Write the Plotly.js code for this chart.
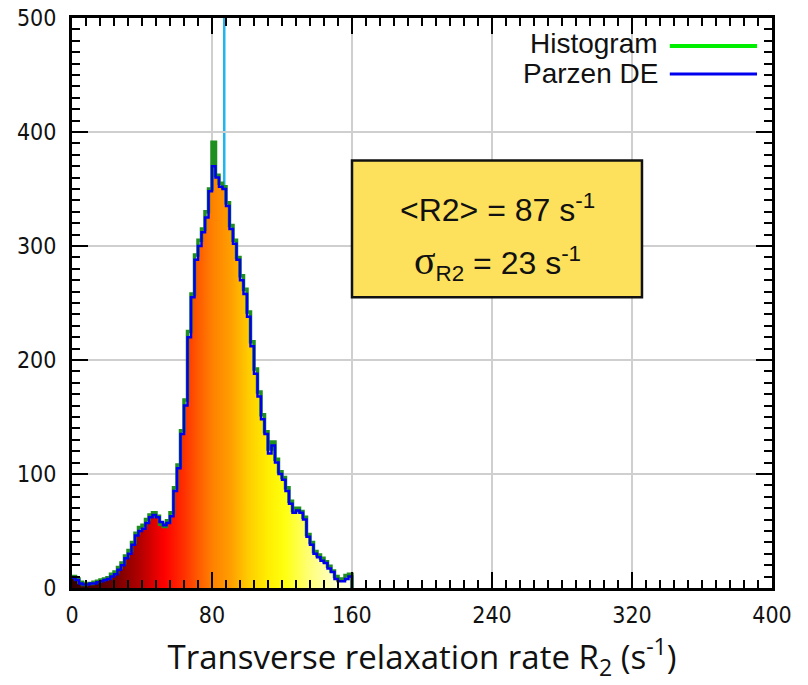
<!DOCTYPE html>
<html><head><meta charset="utf-8">
<script src="https://cdn.plot.ly/plotly-3.0.1.min.js"></script>
<style>html,body{margin:0;padding:0;background:#fff}#chart{width:808px;height:685px}</style>
</head><body><div id="chart"></div>
<script>
// bin left edges (s^-1), bin width 2
var binEdges = [0,2,4,6,8,10,12,14,16,18,20,22,24,26,28,30,32,34,36,38,40,42,44,46,48,50,52,54,56,58,60,62,64,66,68,70,72,74,76,78,80,82,84,86,88,90,92,94,96,98,100,102,104,106,108,110,112,114,116,118,120,122,124,126,128,130,132,134,136,138,140,142,144,146,148,150,152,154,156,158,160];
var parzenDE = [9,7,4,3,3,4,4,5,6,7,8,10,12,16,20,26,30,38,46,50,52,57,62,64,62,58,55,57,63,85,105,135,160,220,255,288,300,312,325,348,370,360,352,350,335,315,302,288,270,258,238,212,188,168,148,135,118,125,110,100,95,85,74,66,68,66,60,45,38,30,27,24,22,17,14,8,6,6,8,10,0];
var histogram = [10,8,5,3,4,4,5,6,7,8,9,12,14,18,22,28,33,40,48,53,55,60,64,66,63,56,54,59,66,88,108,138,165,225,258,292,305,315,330,350,391,362,355,352,338,318,305,290,274,262,242,216,192,172,152,137,122,128,113,102,97,88,76,68,70,67,62,47,40,32,29,26,23,19,15,10,7,8,11,12,0];
var meanR2 = 87;
var sigmaR2 = 23;
var xTicks = [0,80,160,240,320,400];
var yTicks = [0,100,200,300,400,500];

var fillScale = [
  [0.00,'#300000'],[0.14,'#6a0000'],[0.24,'#b00000'],[0.33,'#ff0000'],
  [0.40,'#ff3000'],[0.45,'#ff5a00'],[0.50,'#ff8000'],[0.57,'#ffa000'],
  [0.63,'#ffcc00'],[0.70,'#ffee00'],[0.76,'#ffff10'],[0.84,'#ffff70'],
  [0.92,'#ffffb8'],[1.00,'#ffffee']
];

var traces = [
  {x: binEdges, y: parzenDE, type:'scatter', mode:'lines', line:{shape:'hv', width:0, color:'rgba(0,0,0,0)'},
   fill:'tozeroy', fillgradient:{type:'horizontal', start:0, stop:160, colorscale:fillScale}, hoverinfo:'skip', showlegend:false},
  {x: binEdges, y: histogram, type:'scatter', mode:'lines', name:'Histogram', line:{shape:'hv', width:3.5, color:'#1f8f1f'}, showlegend:false},
  {x: binEdges, y: parzenDE, type:'scatter', mode:'lines', name:'Parzen DE', line:{shape:'hv', width:2.5, color:'#0000ee'}, showlegend:false}
];

var tickFont = {family:'Liberation Sans Narrow, DejaVu Sans Condensed, Arial Narrow, sans-serif', size:23, color:'#111'};

var layout = {
  width:808, height:685,
  margin:{l:72, r:36, t:18, b:97},
  paper_bgcolor:'#fff', plot_bgcolor:'#fff',
  showlegend:false,
  xaxis:{range:[0,400], tickvals:xTicks, ticktext:xTicks.map(String), ticks:'inside', ticklen:16, tickwidth:2.5, tickcolor:'#000',
    minor:{dtick:8, tick0:0, ticks:'inside', ticklen:8, tickwidth:2, tickcolor:'#000', showgrid:false},
    showline:true, linecolor:'#000', linewidth:3, mirror:'allticks', showgrid:true, gridcolor:'#cfcfcf', gridwidth:1.5,
    zeroline:false, tickfont:tickFont, ticklabelstandoff:4,
    title:{text:'Transverse relaxation rate R<sub>2</sub> (s<sup>-1</sup>)', font:{family:'Open Sans, sans-serif', size:33, color:'#111'}, standoff:20}},
  yaxis:{range:[0,500], tickvals:yTicks, ticktext:yTicks.map(String), ticks:'inside', ticklen:16, tickwidth:2.5, tickcolor:'#000',
    minor:{dtick:10, tick0:0, ticks:'inside', ticklen:8, tickwidth:2, tickcolor:'#000', showgrid:false},
    showline:true, linecolor:'#000', linewidth:3, mirror:'allticks', showgrid:true, gridcolor:'#cfcfcf', gridwidth:2,
    zeroline:false, tickfont:tickFont, ticklabelstandoff:8},
  shapes:[
    {type:'line', xref:'x', yref:'paper', x0:meanR2, x1:meanR2, y0:0, y1:1, line:{color:'#22b4ee', width:2.5}, layer:'below'},
    {type:'rect', xref:'x', yref:'y', x0:160, x1:325.7, y0:255, y1:375, fillcolor:'#fde15c', line:{color:'#111', width:2.5}},
    {type:'line', xref:'paper', yref:'paper', x0:0.854, x1:0.9786, y0:0.951, y1:0.951, line:{color:'#00ee00', width:4}},
    {type:'line', xref:'paper', yref:'paper', x0:0.854, x1:0.9786, y0:0.9018, y1:0.9018, line:{color:'#0000ee', width:3}}
  ],
  annotations:[
    {xref:'paper', yref:'paper', x:0.84, y:0.9545, xanchor:'right', yanchor:'middle', showarrow:false, text:'Histogram',
     font:{family:'Liberation Sans, Arial, sans-serif', size:28, color:'#111'}},
    {xref:'paper', yref:'paper', x:0.84, y:0.903, xanchor:'right', yanchor:'middle', showarrow:false, text:'Parzen DE',
     font:{family:'Liberation Sans, Arial, sans-serif', size:28, color:'#111'}},
    {xref:'x', yref:'y', x:243, y:333, xanchor:'center', yanchor:'middle', showarrow:false,
     text:'&lt;R2&gt; = ' + meanR2 + ' s<sup>-1</sup>', font:{family:'Liberation Sans, Arial, sans-serif', size:32, color:'#111'}},
    {xref:'x', yref:'y', x:243, y:286, xanchor:'center', yanchor:'middle', showarrow:false,
     text:'<span style="font-family:Liberation Serif, serif;font-size:40px">σ</span><sub>R2</sub> = ' + sigmaR2 + ' s<sup>-1</sup>',
     font:{family:'Liberation Sans, Arial, sans-serif', size:32, color:'#111'}}
  ]
};

Plotly.newPlot('chart', traces, layout, {displayModeBar:false, staticPlot:true});
</script></body></html>
